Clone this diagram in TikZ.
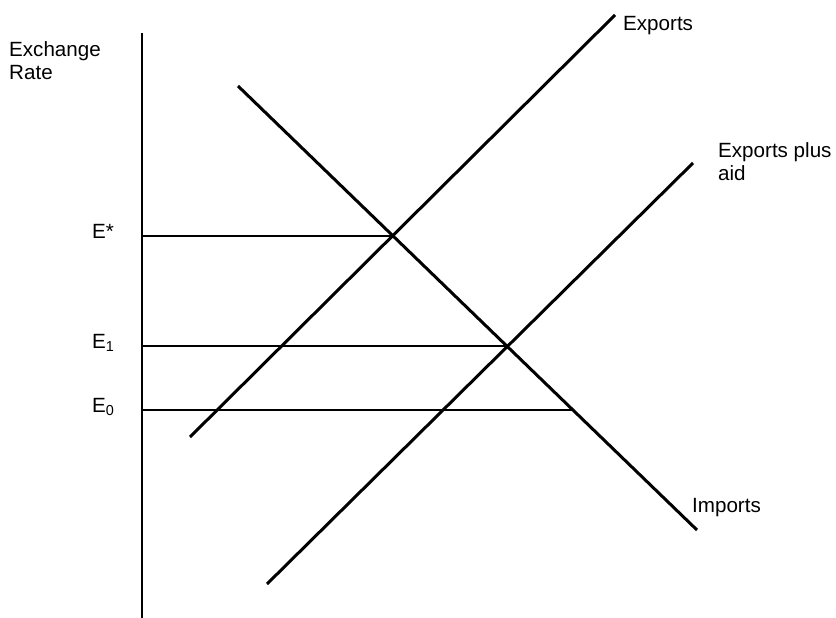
\documentclass[tikz,border=0pt]{standalone}
\usepackage{fontspec}
\setmainfont{Liberation Sans}
\usetikzlibrary{positioning,calc}

\begin{document}
\begin{tikzpicture}[
  x=1pt, y=-1pt,
  axis/.style={line width=1.7pt},
  level/.style={line width=1.6pt},
  curve/.style={line width=3pt},
  lbl/.style={inner sep=0pt, anchor=base west, font=\fontsize{20.6}{23}\selectfont, align=left}
]
\useasboundingbox (0,0) rectangle (836,618);

% axis
\coordinate (top) at (142,33);
\coordinate (bottom) at (142,618);
\draw[axis] (top) -- (bottom);

% curves
\coordinate (exLow) at (190,437);
\coordinate (exHigh) at (615,15);
\coordinate (aidLow) at (267,584);
\coordinate (aidHigh) at (693,163);
\coordinate (imHigh) at (238,86);
\coordinate (imLow) at (697,530);
\draw[curve] (exLow) -- (exHigh);
\draw[curve] (aidLow) -- (aidHigh);
\draw[curve] (imHigh) -- (imLow);

% exchange rate levels
\coordinate (eStarA) at (142,236);
\coordinate (eStarB) at (393,236);
\coordinate (eOneA) at (142,346);
\coordinate (eOneB) at (507,346);
\coordinate (eZeroA) at (142,410);
\coordinate (eZeroB) at (573,410);
\draw[level] (eStarA) -- (eStarB);
\draw[level] (eOneA) -- (eOneB);
\draw[level] (eZeroA) -- (eZeroB);

% labels (base of a two-line label is its last line)
\node[lbl] (rate) at (9,80) {Exchange\\Rate};
\node[lbl] (eStar) at (92,238) {E*};
\node[lbl] (eOne) at (92,348) {E\textsubscript{1}};
\node[lbl] (eZero) at (92,412) {E\textsubscript{0}};
\node[lbl] (exports) at (623,31) {Exports};
\node[lbl] (aid) at (718,180) {Exports plus\\aid};
\node[lbl] (imports) at (692,512) {Imports};
\end{tikzpicture}
\end{document}
